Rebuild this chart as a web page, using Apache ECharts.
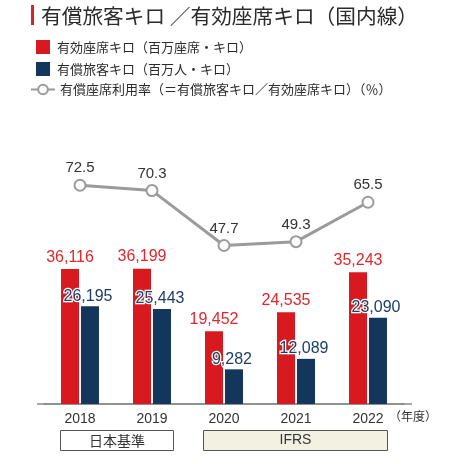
<!DOCTYPE html>
<html><head><meta charset="utf-8">
<script src="https://cdn.jsdelivr.net/npm/echarts@6/dist/echarts.min.js"></script>
<style>html,body{margin:0;padding:0;background:#fff}#c{width:463px;height:464px}</style>
</head><body><div id="c"></div>
<script>
const years = ['2018','2019','2020','2021','2022'];
const seatKm = [36116,36199,19452,24535,35243];
const paxKm = [26195,25443,9282,12089,23090];
const loadFactor = [72.5,70.3,47.7,49.3,65.5];
const seriesNames = ['有効座席キロ（百万座席・キロ）','有償旅客キロ（百万人・キロ）','有償座席利用率（＝有償旅客キロ／有効座席キロ）（％）'];
const titleText = '有償旅客キロ ／有効座席キロ（国内線）';
const unitText = '（年度）';
const standards = ['日本基準','IFRS'];

const NUM = 'Liberation Sans, Arial, sans-serif';
const JP = 'Noto Sans CJK JP, sans-serif';
const RED = '#d71a20', BLUE = '#12365c', GRAY = '#9b9b9b';
const fmt = p => p.value.toLocaleString('en-US');

const chart = echarts.init(document.getElementById('c'), null, {renderer:'canvas'});
chart.setOption({
  animation:false,
  backgroundColor:'#fff',
  title:{text:titleText,left:41,top:6,padding:0,textStyle:{fontFamily:JP,fontSize:20.7,fontWeight:'normal',color:'#2b2b2b'}},
  legend:[
    {data:[seriesNames[0],seriesNames[1]],orient:'vertical',left:36,top:40,padding:0,itemWidth:14,itemHeight:14,itemGap:8,
     icon:'rect',textStyle:{fontFamily:JP,fontSize:13,color:'#2b2b2b',padding:[0,0,0,2]}},
    {data:[seriesNames[2]],left:30,top:83,padding:0,itemWidth:24,itemHeight:12,
     textStyle:{fontFamily:JP,fontSize:13,color:'#2b2b2b'}}
  ],
  grid:{left:44,right:59,top:150,bottom:60,containLabel:false},
  xAxis:{type:'category',data:years,
    axisLine:{show:true,lineStyle:{color:'#8a8a8a',width:1.5}},
    axisTick:{show:false},
    axisLabel:{fontFamily:NUM,fontSize:14,color:'#333',margin:8}},
  yAxis:[
    {type:'value',min:0,max:68000,show:false,splitLine:{show:false}},
    {type:'value',min:-17.5,max:87,show:false,splitLine:{show:false}}
  ],
  series:[
    {name:seriesNames[0],type:'bar',data:seatKm,barWidth:18,barGap:'11%',
     itemStyle:{color:RED},
     label:{show:true,position:'top',distance:4,formatter:fmt,fontFamily:NUM,fontSize:16,color:'#e0282c'}},
    {name:seriesNames[1],type:'bar',data:paxKm,barWidth:18,
     itemStyle:{color:BLUE},
     label:{show:true,position:'top',distance:2,formatter:fmt,fontFamily:NUM,fontSize:16,color:'#1d3e66',
       textBorderColor:'#fff',textBorderWidth:2.5,offset:[-2,0]}},
    {name:seriesNames[2],type:'line',yAxisIndex:1,data:loadFactor,
     symbol:'circle',symbolSize:11,
     lineStyle:{color:GRAY,width:3},
     itemStyle:{color:'#fff',borderColor:GRAY,borderWidth:2},
     label:{show:true,position:'top',distance:3,fontFamily:NUM,fontSize:15,color:'#333'}}
  ],
  graphic:[
    {type:'rect',left:31,top:5,shape:{width:3,height:20},style:{fill:'#d9232a'}},
    {type:'line',shape:{x1:37,y1:404,x2:412,y2:404},style:{stroke:'#8a8a8a',lineWidth:1.5},z:-1},
    {type:'text',left:389,top:410,style:{text:unitText,font:'12px Noto Sans CJK JP',fill:'#333'}},
    {type:'group',left:60,top:430,children:[
      {type:'rect',shape:{x:0,y:0,width:113,height:20},style:{fill:'#fff',stroke:'#555',lineWidth:1}},
      {type:'text',x:56.5,y:10,style:{text:standards[0],font:'14px Noto Sans CJK JP',fill:'#333',align:'center',verticalAlign:'middle'}}
    ]},
    {type:'group',left:203,top:430,children:[
      {type:'rect',shape:{x:0,y:0,width:184,height:20},style:{fill:'#f3f1e2',stroke:'#555',lineWidth:1}},
      {type:'text',x:92,y:10,style:{text:standards[1],font:'14px Liberation Sans',fill:'#333',align:'center',verticalAlign:'middle'}}
    ]}
  ]
});
</script></body></html>
